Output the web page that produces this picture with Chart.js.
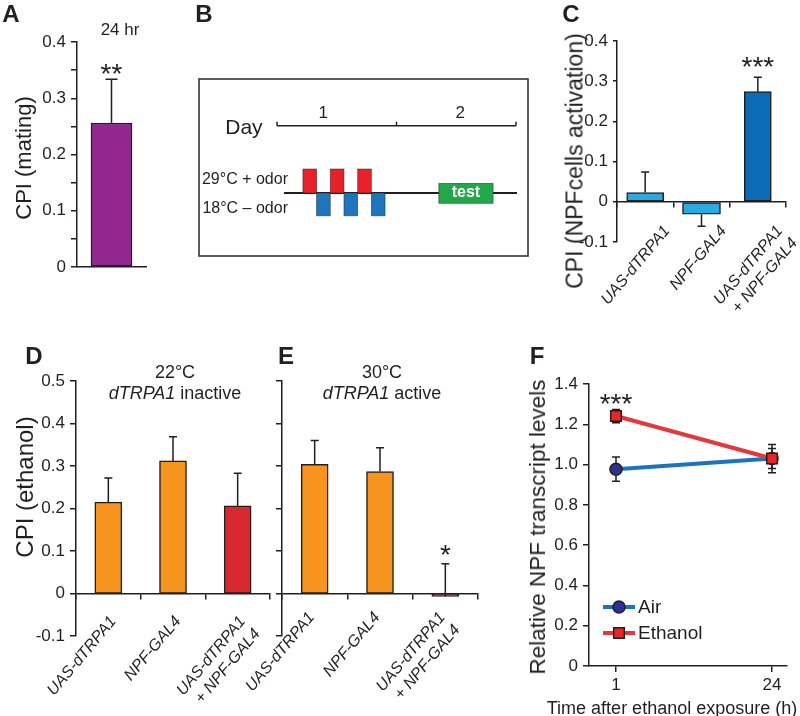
<!DOCTYPE html>
<html><head><meta charset="utf-8">
<script src="https://cdn.jsdelivr.net/npm/chart.js@4.4.1/dist/chart.umd.min.js"></script>
<style>
html,body{margin:0;padding:0;background:#fff;}
#wrap{position:relative;width:800px;height:716px;overflow:hidden;font-family:"Liberation Sans",Arial,sans-serif;color:#231f20;}
canvas{position:absolute;}
.t{position:absolute;white-space:nowrap;transform:translate(-50%,-50%);line-height:normal;}
.r{transform:translate(-50%,-50%) rotate(-90deg);}
.p{font-weight:bold;font-size:24px;}
</style></head><body><div id="wrap">
<canvas id="cA" width="160" height="300" style="left:0;top:0"></canvas>
<canvas id="cB" width="331" height="179" style="left:198px;top:78px"></canvas>
<canvas id="cC" width="260" height="330" style="left:540px;top:0"></canvas>
<canvas id="cD" width="280" height="416" style="left:0;top:300px"></canvas>
<canvas id="cE" width="245" height="416" style="left:240px;top:300px"></canvas>
<canvas id="cF" width="280" height="416" style="left:520px;top:300px"></canvas>

<div class="t p" style="left:11px;top:14px">A</div>
<div class="t p" style="left:204px;top:14px">B</div>
<div class="t p" style="left:571px;top:14px">C</div>
<div class="t p" style="left:34px;top:356px">D</div>
<div class="t p" style="left:286px;top:356px">E</div>
<div class="t p" style="left:537px;top:356px">F</div>

<div class="t" style="left:120px;top:30px;font-size:17px">24 hr</div>
<div class="t" style="left:175px;top:372px;font-size:18px">22°C</div>
<div class="t" style="left:175px;top:393px;font-size:18px"><i>dTRPA1</i> inactive</div>
<div class="t" style="left:382px;top:372px;font-size:18px">30°C</div>
<div class="t" style="left:382px;top:393px;font-size:18px"><i>dTRPA1</i> active</div>

<div class="t r" style="left:24px;top:158px;font-size:22px">CPI (mating)</div>
<div class="t r" style="left:575px;top:161px;font-size:23px">CPI (NPFcells activation)</div>
<div class="t r" style="left:25px;top:487px;font-size:24px">CPI (ethanol)</div>
<div class="t r" style="left:538px;top:527px;font-size:22.5px">Relative NPF transcript levels</div>
<div class="t" style="left:672px;top:708px;font-size:18px">Time after ethanol exposure (h)</div>
</div>
<script>
// ---------------- data ----------------
const matingLabels = ['24 hr'];
const matingCPI = [0.256];
const matingErr = [0.078];
const matingSig = ['**'];
const matingSigY = [0.356];

const genotypeLabels = ['UAS-dTRPA1', 'NPF-GAL4', ['UAS-dTRPA1', '+ NPF-GAL4']];

const activationCPI = [0.023, -0.031, 0.274];
const activationErr = [0.051, 0.030, 0.036];
const activationErrDir = [1, -1, 1];
const activationSig = ['', '', '***'];
const activationSigY = [null, null, 0.352];

const ethanol22CPI = [0.215, 0.312, 0.206];
const ethanol22Err = [0.057, 0.057, 0.077];

const ethanol30CPI = [0.304, 0.287, -0.007];
const ethanol30Err = [0.056, 0.056, 0.077];
const ethanol30ErrDir = [1, 1, 1];
const ethanol30Sig = ['', '', '*'];
const ethanol30SigY = [null, null, 0.108];

const timeLabels = ['1', '24'];
const airNPF = [0.977, 1.03];
const airErr = [0.06, 0.05];
const ethanolNPF = [1.241, 1.03];
const ethanolErr = [0.033, 0.07];
const transcriptSig = ['***', ''];
const transcriptSigY = [1.336, null];

// protocol schematic (hours)
const protocolDays = ['1', '2'];
const dayBounds = [0, 24, 48];
const dayLabelAt = [9.3, 36.8];
const pairedPulses = [5.2, 10.7, 16.2];     // 29°C + odor
const unpairedPulses = [7.95, 13.45, 18.95]; // 18°C – odor
const pulseLength = 2.75;
const testWindow = [32.5, 43.4];

// ---------------- helpers ----------------
const INK = '#231f20';
Chart.defaults.font.family = '"Liberation Sans", Arial, sans-serif';
Chart.defaults.color = INK;
Chart.defaults.animation = false;

const fmt1 = v => Math.abs(v) < 1e-9 ? '0' : (Math.abs(v * 10 - Math.round(v * 10)) < 1e-6 ? v.toFixed(1) : '');

function yAxis(min, max, step, width, showLabels, tickLen) {
  return {
    min, max,
    border: {display: true, color: INK, width: 1.5},
    grid: {drawOnChartArea: false, drawTicks: true, tickLength: tickLen || 6, color: INK, lineWidth: 1.5},
    ticks: {display: showLabels, stepSize: step, padding: 5, color: INK, font: {size: 17}, autoSkip: false, callback: v => fmt1(v)},
    afterFit(s) { s.width = width; }
  };
}
function xZero(labelOffset, pad) {
  return {
    type: 'category', position: {y: 0}, offset: true,
    border: {display: true, color: INK, width: 1.5},
    grid: {offset: true, drawOnChartArea: false, drawTicks: true, tickLength: 5, color: INK, lineWidth: 1.5},
    ticks: {minRotation: 50, maxRotation: 50, autoSkip: false, padding: pad, labelOffset: labelOffset,
            font: {size: 16, style: 'italic'}, color: INK},
    afterFit(s) { s.paddingLeft = 0; s.paddingRight = 0; }
  };
}
function errBars(err, dir, cap) {
  return {
    id: 'errbars',
    afterDatasetsDraw(chart) {
      const {ctx} = chart; const ys = chart.scales.y;
      ctx.save(); ctx.strokeStyle = INK; ctx.lineWidth = 1.5;
      chart.data.datasets.forEach((ds, di) => {
        const meta = chart.getDatasetMeta(di);
        meta.data.forEach((el, i) => {
          const v = ds.data[i]; if (v == null) return;
          const d = dir ? dir[i] : (v >= 0 ? 1 : -1);
          const y0 = ys.getPixelForValue(v), y1 = ys.getPixelForValue(v + d * err[i]);
          ctx.beginPath(); ctx.moveTo(el.x, y0); ctx.lineTo(el.x, y1);
          ctx.moveTo(el.x - cap / 2, y1); ctx.lineTo(el.x + cap / 2, y1); ctx.stroke();
        });
      });
      ctx.restore();
    }
  };
}
function stars(labels, ys, size) {
  return {
    id: 'stars',
    afterDraw(chart) {
      const {ctx} = chart; const sx = chart.scales.x, sy = chart.scales.y;
      ctx.save(); ctx.fillStyle = INK; ctx.font = size + 'px "Liberation Sans", Arial, sans-serif';
      ctx.textAlign = 'center'; ctx.textBaseline = 'alphabetic';
      labels.forEach((s, i) => {
        if (!s) return;
        ctx.fillText(s, sx.getPixelForValue(i), sy.getPixelForValue(ys[i]) + 0.57 * size);
      });
      ctx.restore();
    }
  };
}
const baseOpts = (pad) => ({
  responsive: false, devicePixelRatio: 1, animation: false,
  layout: {padding: pad},
  plugins: {legend: {display: false}, tooltip: {enabled: false}}
});

// ---------------- A ----------------
new Chart(document.getElementById('cA'), {
  type: 'bar',
  data: {labels: matingLabels, datasets: [{data: matingCPI, backgroundColor: '#92278f', borderColor: INK,
    borderWidth: 1.5, borderSkipped: false, barThickness: 41}]},
  options: Object.assign(baseOpts({top: 42, right: 14, left: 0, bottom: 0}), {
    scales: {
      x: {border: {display: true, color: INK, width: 1.5}, grid: {display: false},
          ticks: {display: false}, afterFit(s) { s.height = 33; }},
      y: yAxis(0, 0.4, 0.05, 77, true)
    }
  }),
  plugins: [errBars(matingErr, null, 12), stars(matingSig, matingSigY, 28)]
});

// ---------------- B (protocol schematic) ----------------
new Chart(document.getElementById('cB'), {
  type: 'scatter',
  data: {datasets: [{data: []}]},
  options: Object.assign(baseOpts({top: 1, bottom: 1, left: 79, right: 13}), {
    scales: {x: {type: 'linear', min: 0, max: 48, display: false}, y: {type: 'linear', min: -2.625, max: 4.75, display: false}}
  }),
  plugins: [{
    id: 'protocol',
    afterDraw(chart) {
      const {ctx} = chart; const x = chart.scales.x, y = chart.scales.y;
      ctx.save();
      ctx.strokeStyle = '#333'; ctx.lineWidth = 1.6;
      ctx.strokeRect(1, 1, chart.width - 2, chart.height - 2);
      // timeline
      const ty = y.getPixelForValue(2.8);
      ctx.strokeStyle = INK; ctx.lineWidth = 1.5;
      ctx.beginPath(); ctx.moveTo(x.getPixelForValue(dayBounds[0]), ty); ctx.lineTo(x.getPixelForValue(dayBounds[2]), ty);
      dayBounds.forEach(h => { const px = x.getPixelForValue(h); ctx.moveTo(px, ty); ctx.lineTo(px, ty - 4); });
      ctx.stroke();
      ctx.fillStyle = INK; ctx.textBaseline = 'middle';
      ctx.font = '17px "Liberation Sans", Arial'; ctx.textAlign = 'center';
      protocolDays.forEach((d, i) => ctx.fillText(d, x.getPixelForValue(dayLabelAt[i]), y.getPixelForValue(3.33)));
      ctx.font = '21px "Liberation Sans", Arial'; ctx.textAlign = 'left';
      ctx.fillText('Day', x.getPixelForValue(-10.4), y.getPixelForValue(2.72));
      ctx.font = '16px "Liberation Sans", Arial'; ctx.textAlign = 'right';
      ctx.fillText('29°C + odor', x.getPixelForValue(2.2), y.getPixelForValue(0.54));
      ctx.fillText('18°C – odor', x.getPixelForValue(2.2), y.getPixelForValue(-0.67));
      // baseline
      const by = y.getPixelForValue(0);
      ctx.lineWidth = 2.2; ctx.beginPath(); ctx.moveTo(x.getPixelForValue(1.4), by); ctx.lineTo(x.getPixelForValue(48.2), by); ctx.stroke();
      const box = (h0, h1, v0, v1, col) => {
        const x0 = x.getPixelForValue(h0), x1 = x.getPixelForValue(h1);
        const y0 = y.getPixelForValue(v1), y1 = y.getPixelForValue(v0);
        ctx.fillStyle = col; ctx.fillRect(x0, y0, x1 - x0, y1 - y0);
        ctx.strokeStyle = 'rgba(40,30,30,0.6)'; ctx.lineWidth = 0.8; ctx.strokeRect(x0, y0, x1 - x0, y1 - y0);
      };
      pairedPulses.forEach(h => box(h, h + pulseLength, 0, 1, '#e8202a'));
      unpairedPulses.forEach(h => box(h, h + pulseLength, -0.95, 0, '#1f75bc'));
      box(testWindow[0], testWindow[1], -0.43, 0.4, '#22a84a');
      ctx.fillStyle = '#fff'; ctx.font = 'bold 16px "Liberation Sans", Arial'; ctx.textAlign = 'center';
      ctx.fillText('test', x.getPixelForValue((testWindow[0] + testWindow[1]) / 2), y.getPixelForValue(0));
      ctx.restore();
    }
  }]
});

// ---------------- C ----------------
const cColors = ['#29abe2', '#29abe2', '#0b6bb5'];
const cThick = [37, 38, 27];
new Chart(document.getElementById('cC'), {
  type: 'bar',
  data: {labels: genotypeLabels, datasets: activationCPI.map((v, k) => ({
    data: activationCPI.map((w, i) => i === k ? w : null), backgroundColor: cColors[k], borderColor: INK,
    borderWidth: 1.5, borderSkipped: false, barThickness: cThick[k], grouped: false}))},
  options: Object.assign(baseOpts({top: 41, right: 14, left: 0, bottom: 88}), {
    scales: {x: xZero(22, 15), y: yAxis(-0.1, 0.4, 0.1, 77, true, 4)}
  }),
  plugins: [errBars(activationErr, activationErrDir, 8), stars(activationSig, activationSigY, 28)]
});

// ---------------- D ----------------
new Chart(document.getElementById('cD'), {
  type: 'bar',
  data: {labels: genotypeLabels, datasets: [{data: ethanol22CPI, backgroundColor: ['#f7941d', '#f7941d', '#d7282f'],
    borderColor: INK, borderWidth: 1.5, borderSkipped: false, barThickness: 27}]},
  options: Object.assign(baseOpts({top: 81, right: 10, left: 0, bottom: 80}), {
    scales: {x: xZero(5, 14), y: yAxis(-0.1, 0.5, 0.1, 76, true)}
  }),
  plugins: [errBars(ethanol22Err, null, 8)]
});

// ---------------- E ----------------
new Chart(document.getElementById('cE'), {
  type: 'bar',
  data: {labels: genotypeLabels, datasets: [{data: ethanol30CPI, backgroundColor: ['#f7941d', '#f7941d', '#d7282f'],
    borderColor: INK, borderWidth: 1.5, borderSkipped: false, barThickness: 27}]},
  options: Object.assign(baseOpts({top: 81, right: 7, left: 0, bottom: 80}), {
    scales: {x: xZero(-3, 10), y: yAxis(-0.1, 0.5, 0.1, 42, false)}
  }),
  plugins: [errBars(ethanol30Err, ethanol30ErrDir, 8), stars(ethanol30Sig, ethanol30SigY, 28)]
});

// ---------------- F ----------------
const fSeries = [
  {label: 'Air', mean: airNPF, err: airErr, line: '#1c75bc', fill: '#2e3192', style: 'circle', r: 6},
  {label: 'Ethanol', mean: ethanolNPF, err: ethanolErr, line: '#e0393e', fill: '#e8262a', style: 'rect', r: 7.5}
];
new Chart(document.getElementById('cF'), {
  type: 'line',
  data: {datasets: fSeries.map((s, k) => ({
    label: s.label, data: s.mean.map((v, i) => ({x: i, y: v})), borderColor: s.line, borderWidth: 4,
    pointStyle: s.style, pointRadius: s.r, pointBackgroundColor: s.fill, pointBorderColor: INK, pointBorderWidth: 1.5,
    order: 2 - k, clip: false}))},
  options: Object.assign(baseOpts({top: 84, right: 13, left: 0, bottom: 0}), {
    scales: {
      x: {type: 'linear', min: -0.173, max: 1.096,
          afterBuildTicks(s) { s.ticks = timeLabels.map((_, i) => ({value: i})); },
          border: {display: true, color: INK, width: 1.5},
          grid: {drawOnChartArea: false, drawTicks: true, tickLength: 6, color: INK, lineWidth: 1.5},
          ticks: {font: {size: 17}, padding: 3, color: INK, callback: (v, i) => timeLabels[i]},
          afterFit(s) { s.height = 50; }},
      y: {min: 0, max: 1.4,
          border: {display: true, color: INK, width: 1.5},
          grid: {drawOnChartArea: false, drawTicks: true, tickLength: 6, color: INK, lineWidth: 1.5},
          ticks: {stepSize: 0.2, padding: 5, font: {size: 17}, color: INK, callback: v => Math.abs(v) < 1e-9 ? '0' : v.toFixed(1)},
          afterFit(s) { s.width = 69; }}
    }
  }),
  plugins: [{
    id: 'ferr',
    beforeDatasetsDraw(chart) {
      const {ctx} = chart; const sx = chart.scales.x, sy = chart.scales.y;
      ctx.save(); ctx.strokeStyle = INK; ctx.lineWidth = 1.5;
      fSeries.forEach(s => s.mean.forEach((v, i) => {
        const px = sx.getPixelForValue(i), y0 = sy.getPixelForValue(v - s.err[i]), y1 = sy.getPixelForValue(v + s.err[i]);
        ctx.beginPath(); ctx.moveTo(px, y0); ctx.lineTo(px, y1);
        ctx.moveTo(px - 4, y0); ctx.lineTo(px + 4, y0); ctx.moveTo(px - 4, y1); ctx.lineTo(px + 4, y1); ctx.stroke();
      }));
      ctx.restore();
    },
    afterDraw(chart) {
      const {ctx, chartArea: ca} = chart;
      ctx.save();
      const rows = [ca.bottom - 59, ca.bottom - 33];
      fSeries.forEach((s, k) => {
        const yy = rows[k];
        ctx.strokeStyle = s.line; ctx.lineWidth = 4;
        ctx.beginPath(); ctx.moveTo(ca.left + 14, yy); ctx.lineTo(ca.left + 46, yy); ctx.stroke();
        ctx.fillStyle = s.fill; ctx.strokeStyle = INK; ctx.lineWidth = 1.5;
        Chart.helpers.drawPoint(ctx, {pointStyle: s.style, radius: s.r, borderWidth: 1.5, rotation: 0}, ca.left + 30, yy);
        ctx.fillStyle = INK; ctx.font = '19px "Liberation Sans", Arial'; ctx.textAlign = 'left'; ctx.textBaseline = 'middle';
        ctx.fillText(s.label, ca.left + 49, yy + 1);
      });
      ctx.restore();
    }
  }, stars(transcriptSig, transcriptSigY, 28)]
});
</script>
</body></html>
